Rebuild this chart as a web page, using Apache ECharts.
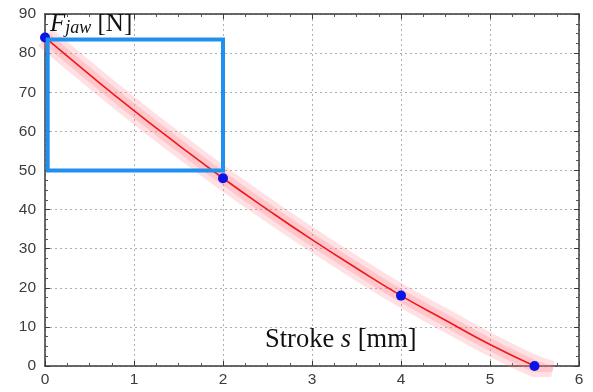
<!DOCTYPE html>
<html><head><meta charset="utf-8">
<script src="https://cdn.jsdelivr.net/npm/echarts@6/dist/echarts.min.js"></script>
<style>html,body{margin:0;padding:0;background:#fff}#c{width:593px;height:392px}</style>
</head><body><div id="c"></div>
<script>
const curveX = [0, 0.5, 1, 1.5, 2, 2.5, 3, 3.5, 4, 4.5, 5, 5.5];
const curveY = [84, 74.5, 65.3, 56.5, 48, 40, 32.3, 25, 18, 11.7, 5.5, 0];
const bandX = [0, 0.5, 1, 1.5, 2, 2.5, 3, 3.5, 4, 4.5, 5, 5.5, 5.7];
const bandY = [84, 74.5, 65.3, 56.5, 48, 40, 32.3, 25, 18, 11.7, 5.5, 0, -1.5];
const pointX = [0, 2, 4, 5.5];
const pointY = [84, 48, 18, 0];
const boxX = [0.03, 2];
const boxY = [50, 83.5];
const xTicks = [0, 1, 2, 3, 4, 5, 6];
const yTicks = [0, 10, 20, 30, 40, 50, 60, 70, 80, 90];

const zip = (a, b) => a.map((v, i) => [v, b[i]]);
const chart = echarts.init(document.getElementById('c'));
const axisCommon = {
  axisLine: { show: true, onZero: false, lineStyle: { color: '#3a3a3a', width: 1.5 } },
  axisTick: { show: true, inside: true, length: 5, lineStyle: { color: '#3a3a3a' } },
  minorTick: { show: true, splitNumber: 4, length: 3, lineStyle: { color: '#555' } }
};
const labelStyle = { color: '#3c3c3c', fontFamily: 'Liberation Sans', fontSize: 15.5 };
chart.setOption({
  animation: false,
  grid: { left: 45, right: 14, top: 14, bottom: 26, containLabel: false },
  xAxis: [
    Object.assign({ type: 'value', min: 0, max: 6, interval: 1, position: 'bottom',
      splitLine: { show: true, lineStyle: { color: '#b0b0b0', type: [2, 3] } } }, axisCommon,
      { axisLabel: Object.assign({ margin: 6, formatter: v => xTicks.includes(v) ? String(v) : '' }, labelStyle) }),
    Object.assign({ type: 'value', min: 0, max: 6, interval: 1, position: 'top', splitLine: { show: false } }, axisCommon,
      { axisLabel: { show: false } })
  ],
  yAxis: [
    Object.assign({ type: 'value', min: 0, max: 90, interval: 10, position: 'left',
      splitLine: { show: true, lineStyle: { color: '#b0b0b0', type: [2, 3] } } }, axisCommon,
      { axisLabel: Object.assign({ margin: 9, formatter: v => yTicks.includes(v) ? String(v) : '' }, labelStyle) }),
    Object.assign({ type: 'value', min: 0, max: 90, interval: 10, position: 'right', splitLine: { show: false } }, axisCommon,
      { axisLabel: { show: false } })
  ],
  series: [
    { type: 'line', data: zip(bandX, bandY), smooth: true, showSymbol: false, clip: true, z: 1,
      lineStyle: { color: 'rgba(255,120,130,0.22)', width: 22 } },
    { type: 'line', data: zip(bandX, bandY), smooth: true, showSymbol: false, clip: true, z: 1,
      lineStyle: { color: 'rgba(255,120,130,0.25)', width: 12 } },
    { type: 'line', data: zip(curveX, curveY), smooth: true, showSymbol: false, clip: true, z: 2,
      lineStyle: { color: '#f01818', width: 1.6 } },
    { type: 'scatter', data: zip(pointX, pointY), symbolSize: 10, clip: true, z: 6,
      itemStyle: { color: '#0a14e6', opacity: 1 } },
    { type: 'line', data: [], z: 8,
      markArea: { silent: true, z: 8,
        itemStyle: { color: 'rgba(0,0,0,0)', borderColor: '#2090f0', borderWidth: 4 },
        data: [[{ coord: [boxX[0], boxY[0]] }, { coord: [boxX[1], boxY[1]] }]] } }
  ],
  graphic: [
    { type: 'text', left: 50, top: 12, z: 10,
      style: { text: '{f|F}{s|jaw}{n| [N]}', rich: {
        f: { fontFamily: 'Liberation Serif', fontStyle: 'italic', fontSize: 25, fill: '#111', verticalAlign: 'bottom' },
        s: { fontFamily: 'Liberation Serif', fontStyle: 'italic', fontSize: 18, fill: '#111', padding: [10, 0, 0, 0], verticalAlign: 'bottom' },
        n: { fontFamily: 'Liberation Serif', fontSize: 25, fill: '#111', verticalAlign: 'bottom' } } } },
    { type: 'text', left: 265, top: 327, z: 10,
      style: { text: '{a|Stroke }{b|s}{a| [mm]}', rich: {
        a: { fontFamily: 'Liberation Serif', fontSize: 26.5, fill: '#111' },
        b: { fontFamily: 'Liberation Serif', fontStyle: 'italic', fontSize: 26.5, fill: '#111' } } } }
  ]
});
</script></body></html>
